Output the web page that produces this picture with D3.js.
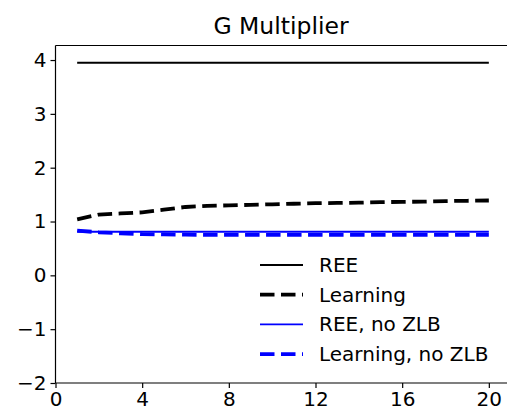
<!DOCTYPE html>
<html><head><meta charset="utf-8">
<script src="https://cdn.jsdelivr.net/npm/d3@7"></script>
<style>body{margin:0;background:#fff}svg{display:block}text{font-family:"DejaVu Sans",sans-serif}</style>
</head><body>
<script>
const title = "G Multiplier";
const periods = d3.range(1, 21);
const ree = [3.95,3.95,3.95,3.95,3.95,3.95,3.95,3.95,3.95,3.95,3.95,3.95,3.95,3.95,3.95,3.95,3.95,3.95,3.95,3.95];
const learning = [1.04,1.13,1.15,1.17,1.22,1.27,1.29,1.30,1.31,1.32,1.33,1.34,1.345,1.35,1.36,1.365,1.37,1.38,1.385,1.39];
const reeNoZLB = [0.81,0.81,0.81,0.81,0.81,0.81,0.81,0.81,0.81,0.81,0.81,0.81,0.81,0.81,0.81,0.81,0.81,0.81,0.81,0.81];
const learningNoZLB = [0.83,0.80,0.78,0.765,0.76,0.755,0.75,0.75,0.75,0.75,0.75,0.75,0.75,0.75,0.75,0.75,0.75,0.75,0.75,0.75];
const seriesNames = ["REE","Learning","REE, no ZLB","Learning, no ZLB"];
const xTicks = [0,4,8,12,16,20];
const yTicks = [-2,-1,0,1,2,3,4];

const W = 507, H = 415;
const svg = d3.select("body").append("svg").attr("width", W).attr("height", H);
const x = d3.scaleLinear().domain([0, 21]).range([55.5, 510.5]);
const y = d3.scaleLinear().domain([-2, 4.27]).range([383, 45.5]);

const series = [
  {name: seriesNames[0], vals: ree, color: "#000", w: 1.9, dash: null},
  {name: seriesNames[1], vals: learning, color: "#000", w: 3.8, dash: "14.5,6.5"},
  {name: seriesNames[2], vals: reeNoZLB, color: "#0000ff", w: 1.9, dash: null},
  {name: seriesNames[3], vals: learningNoZLB, color: "#0000ff", w: 3.8, dash: "14.5,6.5"}
];
const line = d3.line().x((d,i) => x(periods[i])).y(d => y(d));
series.forEach(s => {
  svg.append("path").datum(s.vals).attr("d", line).attr("fill","none")
    .attr("stroke", s.color).attr("stroke-width", s.w)
    .attr("stroke-dasharray", s.dash);
});

// axes
const xa = svg.append("g").attr("transform", `translate(0,${y(-2)})`)
  .call(d3.axisBottom(x).tickValues(xTicks).tickSize(5).tickPadding(4).tickFormat(d3.format("d")));
const ya = svg.append("g").attr("transform", `translate(${x(0)},0)`)
  .call(d3.axisLeft(y).tickValues(yTicks).tickSize(5).tickPadding(4).tickFormat(d => d < 0 ? "\u2212" + Math.abs(d) : d));
[xa, ya].forEach(a => {
  a.attr("font-size", 20).attr("font-family", '"DejaVu Sans",sans-serif');
  a.selectAll("text").attr("font-size", 20).attr("fill", "#000");
  a.selectAll("line").attr("stroke", "#000").attr("stroke-width", 1.2);
  a.select(".domain").attr("stroke", "#000").attr("stroke-width", 1.2);
});
xa.select(".domain").attr("d", `M${x(0)},0H${W+2}`);
ya.select(".domain").attr("d", `M0,${y(-2)}V${y(4.27)}`);
svg.append("line").attr("x1", x(0)).attr("x2", W+2).attr("y1", y(4.27)).attr("y2", y(4.27))
  .attr("stroke", "#000").attr("stroke-width", 1.2);

svg.append("text").attr("x", 281).attr("y", 34).attr("text-anchor", "middle")
  .attr("font-size", 23.5).text(title);

// legend
const lg = svg.append("g");
series.forEach((s, i) => {
  const yy = 265 + i * 29.7;
  lg.append("line").attr("x1", 260).attr("x2", 303).attr("y1", yy).attr("y2", yy)
    .attr("stroke", s.color).attr("stroke-width", s.w).attr("stroke-dasharray", s.dash);
  lg.append("text").attr("x", 319).attr("y", yy + 7).attr("font-size", 20).text(s.name);
});
</script>
</body></html>
